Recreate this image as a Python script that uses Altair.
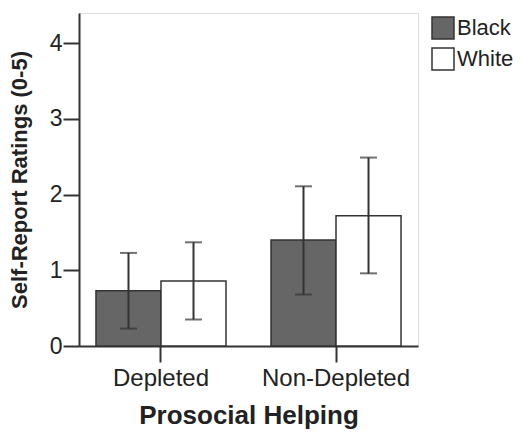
import altair as alt
import pandas as pd

conditions = ["Depleted", "Depleted", "Non-Depleted", "Non-Depleted"]
race = ["Black", "White", "Black", "White"]
mean = [0.73, 0.86, 1.40, 1.72]
upper = [1.23, 1.37, 2.11, 2.49]
lower = [0.23, 0.35, 0.68, 0.96]
y_ticks = [0, 1, 2, 3, 4]

df = pd.DataFrame({"cond": conditions, "race": race, "mean": mean,
                   "upper": upper, "lower": lower})

FONT = "Liberation Sans"
INK = "#222222"

x_enc = alt.X("cond:N", sort=["Depleted", "Non-Depleted"],
              scale=alt.Scale(paddingInner=0.257, paddingOuter=0.097),
              axis=alt.Axis(title="Prosocial Helping", labelAngle=0,
                            labelFontSize=24, labelFont=FONT, labelColor=INK,
                            titleFontSize=26, titleFont=FONT, titleFontWeight="bold",
                            titleColor=INK, tickSize=16, tickWidth=2, tickColor="#333333",
                            domainColor="#333333", domainWidth=2, labelPadding=4,
                            titlePadding=12))
xo = alt.XOffset("race:N", sort=["Black", "White"],
                 scale=alt.Scale(paddingInner=0, paddingOuter=0))
y_scale = alt.Scale(domain=[0, 4.4], nice=False, zero=True)

bars = alt.Chart(df).mark_bar(stroke="#333333", strokeWidth=1.5).encode(
    x=x_enc,
    xOffset=xo,
    y=alt.Y("mean:Q", scale=y_scale,
            axis=alt.Axis(title="Self-Report Ratings (0-5)", values=y_ticks, format="d",
                          labelFontSize=23, labelFont=FONT, labelColor=INK,
                          titleFontSize=22, titleFont=FONT, titleFontWeight="bold",
                          titleColor=INK, tickSize=16, tickWidth=2, tickColor="#333333",
                          domainColor="#333333", domainWidth=2, grid=False,
                          labelPadding=1, titlePadding=18)),
    color=alt.Color("race:N", sort=["Black", "White"],
                    scale=alt.Scale(domain=["Black", "White"], range=["#666666", "#ffffff"]),
                    legend=alt.Legend(title=None, orient="none", legendX=352, legendY=3,
                                      symbolType="square", symbolSize=484,
                                      symbolStrokeColor="#333333", symbolStrokeWidth=1.5,
                                      labelFontSize=22, labelFont=FONT, labelColor=INK,
                                      labelOffset=2, rowPadding=3)),
)

rules = alt.Chart(df).mark_rule(color="#333333", strokeWidth=2).encode(
    x=alt.X("cond:N", sort=["Depleted", "Non-Depleted"]),
    xOffset=xo,
    y=alt.Y("lower:Q", scale=y_scale),
    y2="upper:Q",
)
cap_hi = alt.Chart(df).mark_tick(color="#333333", thickness=2, size=17).encode(
    x=alt.X("cond:N", sort=["Depleted", "Non-Depleted"]),
    xOffset=xo,
    y=alt.Y("upper:Q", scale=y_scale),
)
cap_lo = alt.Chart(df).mark_tick(color="#333333", thickness=2, size=17).encode(
    x=alt.X("cond:N", sort=["Depleted", "Non-Depleted"]),
    xOffset=xo,
    y=alt.Y("lower:Q", scale=y_scale),
)

chart = alt.layer(bars, rules, cap_hi, cap_lo).properties(
    width=339, height=333,
    autosize=alt.AutoSizeParams(type="none"),
    padding={"left": 71, "top": 5, "right": 98, "bottom": 85},
).configure_view(stroke="#333333", strokeWidth=2).configure(background="white")

chart.save("out.html", embed_options={"renderer": "svg", "actions": False})
